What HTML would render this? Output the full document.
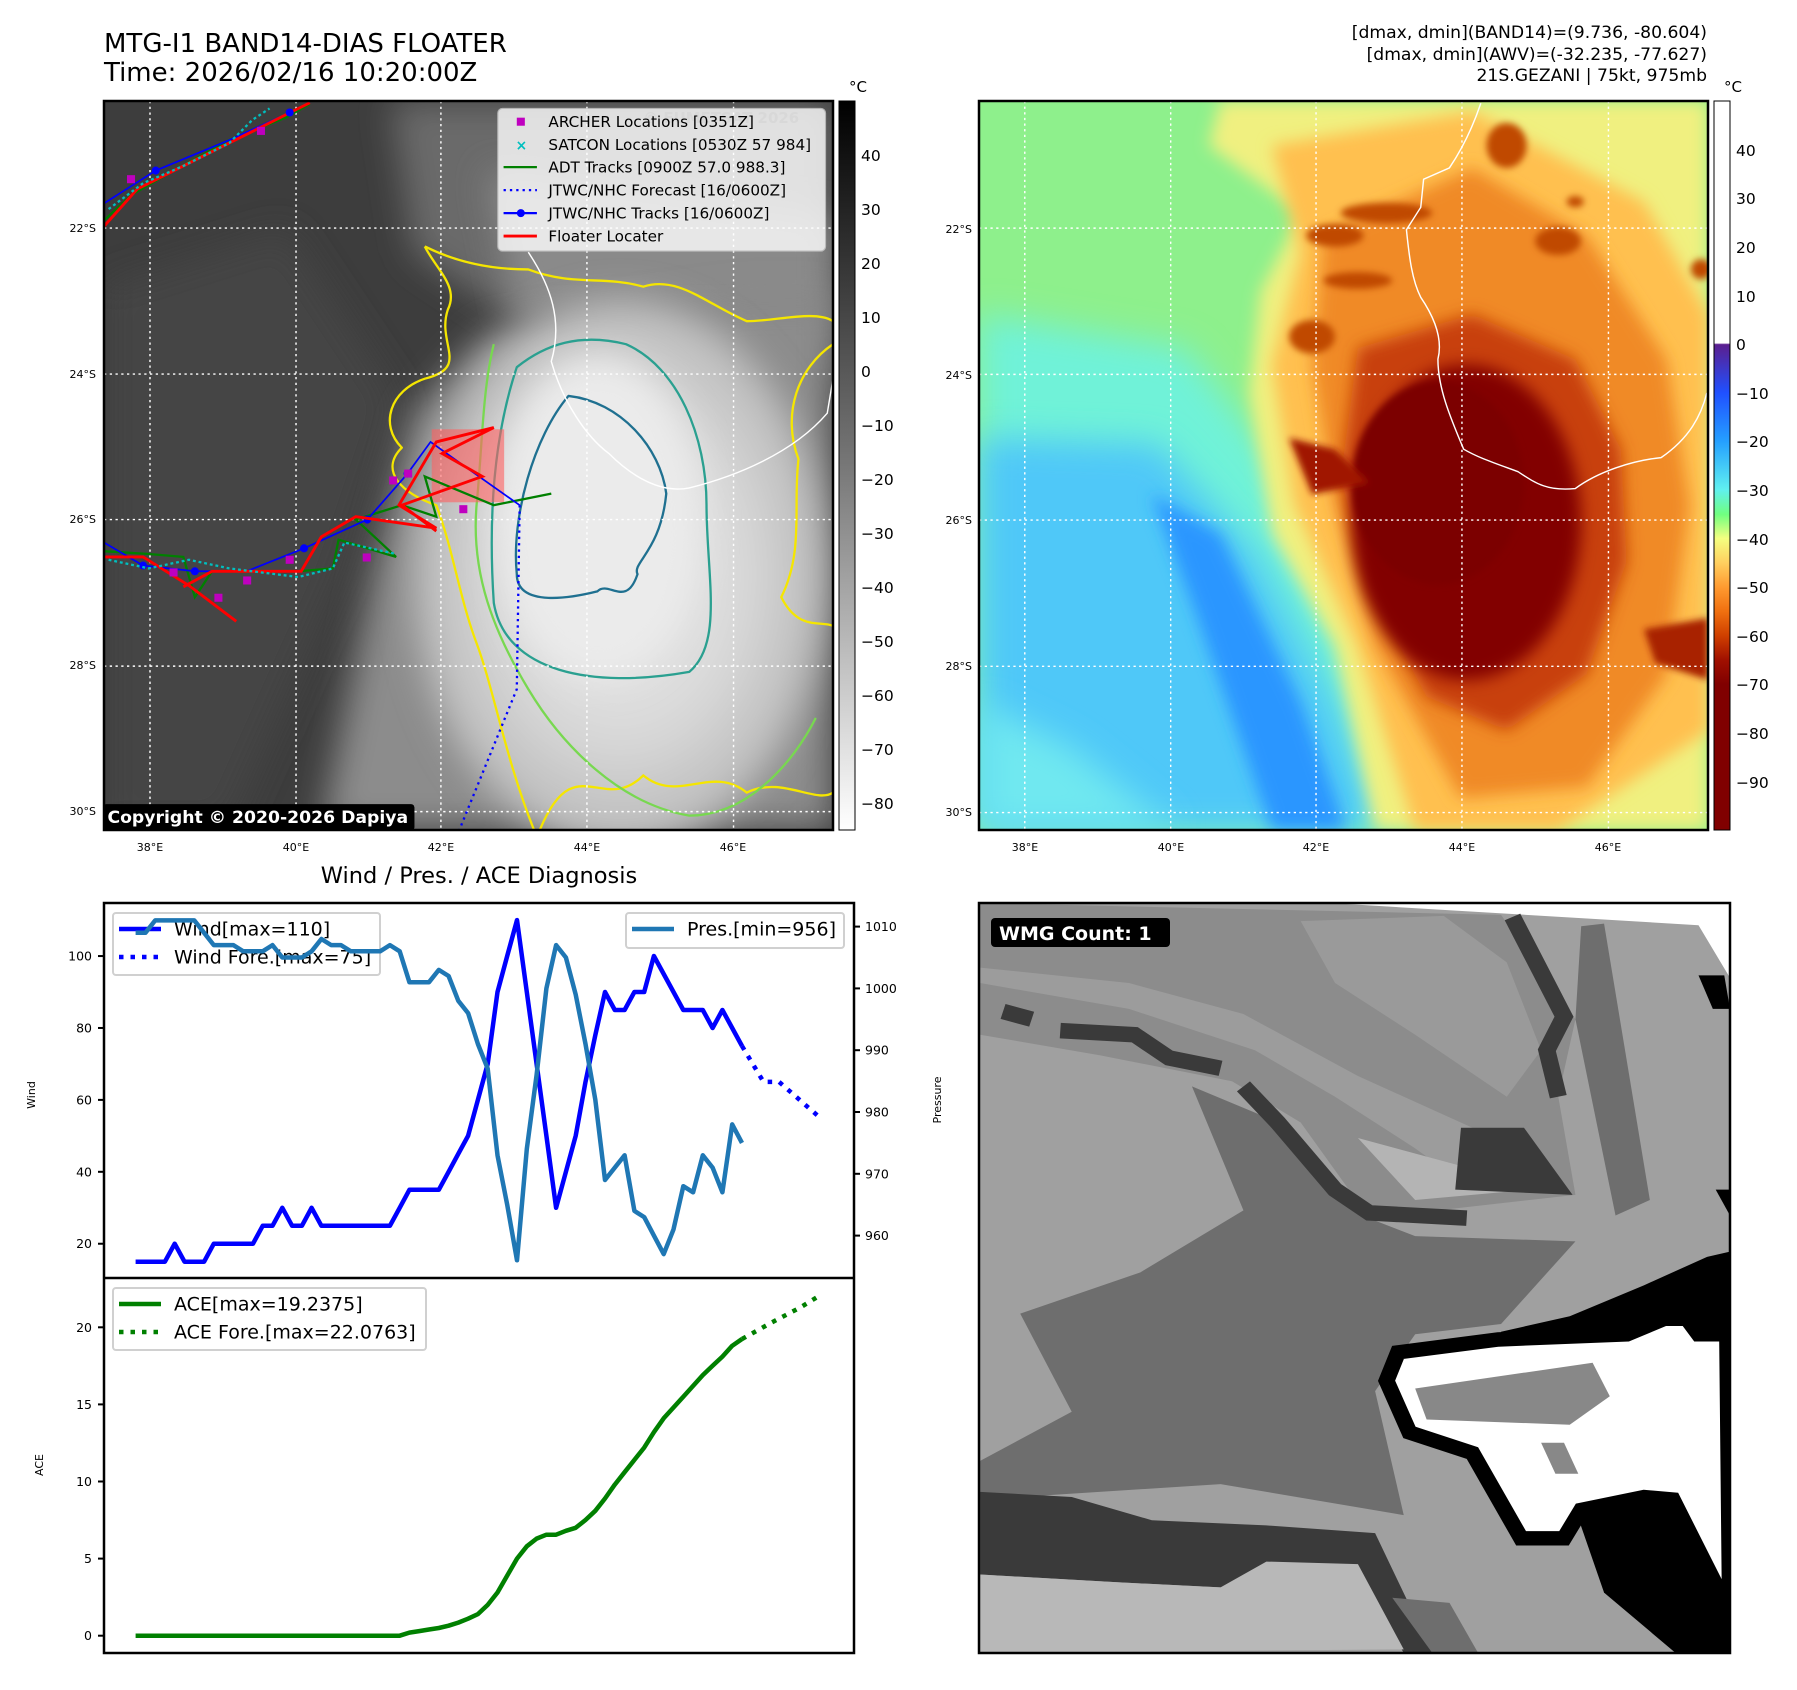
<!DOCTYPE html>
<html><head><meta charset="utf-8">
<style>
html,body{margin:0;padding:0;background:#fff;}
#root{position:relative;width:1797px;height:1690px;overflow:hidden;font-family:"DejaVu Sans","Liberation Sans",sans-serif;}
svg text{font-family:"DejaVu Sans","Liberation Sans",sans-serif;}
</style></head>
<body>
<div id="root">
<svg id="fig" width="1797" height="1690" viewBox="0 0 1797 1690" xmlns="http://www.w3.org/2000/svg">
<defs>
  <filter id="b6" x="-20%" y="-20%" width="140%" height="140%"><feGaussianBlur stdDeviation="6"/></filter>
  <filter id="b14" x="-30%" y="-30%" width="160%" height="160%"><feGaussianBlur stdDeviation="14"/></filter>
  <filter id="b30" x="-30%" y="-30%" width="160%" height="160%"><feGaussianBlur stdDeviation="30"/></filter>
  <linearGradient id="greyBar" x1="0" y1="0" x2="0" y2="1">
    <stop offset="0" stop-color="#000"/><stop offset="0.5" stop-color="#777"/><stop offset="1" stop-color="#fff"/>
  </linearGradient>
  <linearGradient id="colBar" x1="0" y1="0" x2="0" y2="1">
    <stop offset="0" stop-color="#fff"/><stop offset="0.332" stop-color="#fff"/>
    <stop offset="0.334" stop-color="#5b1f8f"/><stop offset="0.4" stop-color="#2050ff"/>
    <stop offset="0.467" stop-color="#25a0ff"/><stop offset="0.533" stop-color="#60f0f0"/>
    <stop offset="0.567" stop-color="#70ff80"/><stop offset="0.6" stop-color="#f4ff80"/>
    <stop offset="0.633" stop-color="#ffd060"/><stop offset="0.667" stop-color="#ff9a30"/>
    <stop offset="0.7" stop-color="#f07010"/><stop offset="0.733" stop-color="#d04000"/>
    <stop offset="0.767" stop-color="#a01000"/><stop offset="0.8" stop-color="#800000"/>
    <stop offset="1" stop-color="#800000"/>
  </linearGradient>
  <radialGradient id="cloudG" cx="0.5" cy="0.5" r="0.5">
    <stop offset="0" stop-color="#eeeeee"/><stop offset="0.6" stop-color="#d8d8d8"/><stop offset="1" stop-color="#b8b8b8"/>
  </radialGradient>
  <clipPath id="clipL"><rect x="182" y="177" width="1268" height="1268"/></clipPath>
  <clipPath id="clipR"><rect x="138" y="181" width="1274" height="1296"/></clipPath>
</defs>

<!-- titles -->
<text x="104" y="52" font-size="26" fill="#000">MTG-I1 BAND14-DIAS FLOATER</text>
<text x="104" y="81" font-size="26" fill="#000">Time: 2026/02/16 10:20:00Z</text>
<g font-size="17.2" text-anchor="end" fill="#000">
  <text x="1707" y="38">[dmax, dmin](BAND14)=(9.736, -80.604)</text>
  <text x="1707" y="60">[dmax, dmin](AWV)=(-32.235, -77.627)</text>
  <text x="1707" y="81">21S.GEZANI | 75kt, 975mb</text>
</g>

<!-- LEFT MAP -->
<g>
<svg x="104" y="101" width="729" height="729" viewBox="182 177 1268 1268" preserveAspectRatio="none">
 <g clip-path="url(#clipL)">
  <rect x="182" y="177" width="1268" height="1268" fill="#3d3d3d"/>
  <path d="M180,500 L500,400 L700,700 L600,1000 L400,1445 L180,1445 Z" fill="#454545" filter="url(#b30)"/>
  <path d="M680,177 L1450,177 L1450,650 L900,560 L720,440 Z" fill="#6a6a6a" filter="url(#b30)"/>
  <path d="M850,300 L1450,380 L1450,560 L900,560 Z" fill="#8a8a8a" filter="url(#b30)"/>
  <path d="M560,1445 L650,1000 L720,720 L850,580 L1300,520 L1450,520 L1450,1445 Z" fill="#8c8c8c" filter="url(#b30)"/>
  <ellipse cx="1080" cy="1000" rx="360" ry="480" fill="url(#cloudG)" filter="url(#b30)"/>
  <ellipse cx="1040" cy="900" rx="180" ry="280" fill="#ebebeb" filter="url(#b30)"/>
  <!-- contours -->
  <g fill="none" stroke-width="4" stroke-linejoin="round">
   <path d="M740,430 C760,470 800,500 780,540 C760,600 820,640 740,660 C680,680 660,740 700,780 C660,820 700,860 760,880 C790,960 800,1040 830,1120 C860,1200 880,1320 930,1445" stroke="#f5e600"/>
   <path d="M740,430 C800,460 860,470 920,470 C1000,500 1050,480 1120,500 C1180,480 1230,530 1300,560 C1350,560 1420,540 1450,560" stroke="#f5e600"/>
   <path d="M1450,600 C1390,640 1360,720 1390,800 C1380,880 1400,960 1360,1040 C1390,1100 1430,1080 1450,1090" stroke="#f5e600"/>
   <path d="M940,1445 C1000,1300 1050,1420 1120,1350 C1180,1400 1240,1330 1300,1380 C1360,1350 1420,1400 1450,1380" stroke="#f5e600"/>
   <path d="M860,600 C840,680 840,780 830,880 C820,1000 860,1100 920,1200 C980,1300 1080,1400 1200,1420 C1300,1420 1380,1330 1420,1250" stroke="#78d850"/>
   <path d="M900,640 C860,760 850,900 860,1050 C880,1170 1030,1200 1200,1170 C1260,1120 1230,1000 1230,880 C1230,760 1180,640 1090,600 C1010,580 950,600 900,640 Z" stroke="#2aa090"/>
   <path d="M990,690 C1080,700 1150,780 1160,860 C1150,960 1100,980 1110,1000 C1090,1060 1060,1010 1040,1030 C1000,1040 900,1060 900,1000 C890,900 930,760 990,690 Z" stroke="#1f7090"/>
  </g>
  <path d="M920,440 C960,500 980,560 960,630 C980,700 1020,760 1060,790 C1100,830 1150,860 1200,850 C1280,830 1380,790 1440,720 L1450,660" fill="none" stroke="#fff" stroke-width="2.5"/>
  <!-- grid -->
  <g stroke="#fff" stroke-width="2.5" stroke-dasharray="4,6">
   <line x1="262" y1="177" x2="262" y2="1445"/><line x1="516" y1="177" x2="516" y2="1445"/>
   <line x1="768" y1="177" x2="768" y2="1445"/><line x1="1022" y1="177" x2="1022" y2="1445"/>
   <line x1="1277" y1="177" x2="1277" y2="1445"/>
   <line x1="182" y1="398" x2="1450" y2="398"/><line x1="182" y1="652" x2="1450" y2="652"/>
   <line x1="182" y1="905" x2="1450" y2="905"/><line x1="182" y1="1160" x2="1450" y2="1160"/>
   <line x1="182" y1="1413" x2="1450" y2="1413"/>
  </g>
  <!-- tracks -->
  <rect x="752" y="748" width="126" height="127" fill="#ff6060" opacity="0.6"/>
  <path d="M182,385 L230,340 L300,300 L400,245 L500,205 L540,182" fill="none" stroke="#008000" stroke-width="4"/>
  <path d="M182,355 L272,298 L400,245 L505,197 L540,180" fill="none" stroke="#0000ff" stroke-width="3"/>
  <path d="M182,395 L240,330 L400,250 L540,180" fill="none" stroke="#ff0000" stroke-width="5"/>
  <path d="M182,960 L260,965 L320,970 L340,1040 L370,995 L520,995 L580,990 L590,940 L690,970 L620,905 L700,880 L760,900 L740,830 L860,880 L960,860" fill="none" stroke="#008000" stroke-width="4"/>
  <path d="M182,945 L250,985 L340,995 L430,995 L530,955 L640,905 L710,825 L750,770 L820,820 L905,880" fill="none" stroke="#0000ff" stroke-width="3"/>
  <g fill="#0000ff"><circle cx="250" cy="985" r="7"/><circle cx="340" cy="995" r="7"/><circle cx="530" cy="955" r="7"/><circle cx="640" cy="905" r="7"/><circle cx="710" cy="825" r="7"/><circle cx="272" cy="298" r="7"/><circle cx="505" cy="197" r="7"/></g>
  <path d="M182,970 L250,970 L330,1020 L412,1082 M320,1022 L370,995 L525,995 L560,935 L620,900 L760,920 L695,880 L760,770 L860,745 L770,790 L840,830 L700,880 L760,925" fill="none" stroke="#ff0000" stroke-width="5"/>
  <path d="M905,880 L900,1200 L800,1445" fill="none" stroke="#0000ff" stroke-width="4" stroke-dasharray="4,7"/>
  <g fill="#bf00bf"><rect x="222" y="306" width="14" height="14"/><rect x="448" y="222" width="14" height="14"/><rect x="296" y="990" width="14" height="14"/><rect x="374" y="1034" width="14" height="14"/><rect x="424" y="1004" width="14" height="14"/><rect x="498" y="968" width="14" height="14"/><rect x="632" y="964" width="14" height="14"/><rect x="678" y="830" width="14" height="14"/><rect x="704" y="818" width="14" height="14"/><rect x="800" y="880" width="14" height="14"/></g>
  <g stroke="#00bfbf" stroke-width="4" fill="none" stroke-dasharray="5,5"><path d="M190,365 L250,320 L320,290 L400,250 L440,210 L470,190"/><path d="M190,975 L260,990 L330,975 L400,990 L520,1005 L580,990 L600,945 L690,965"/></g>
  <!-- legend -->
  <rect x="867" y="190" width="570" height="248" rx="8" fill="#fff" opacity="0.8" stroke="#ccc" stroke-width="2"/>
  <text x="1120" y="215" font-size="26" font-weight="bold" fill="#d8d8d8">© EUMETSAT 2026</text>
  <rect x="900" y="206" width="14" height="14" fill="#bf00bf"/>
  <text x="898" y="262" font-size="24" fill="#00bfbf" font-weight="bold">×</text>
  <line x1="877" y1="292" x2="935" y2="292" stroke="#008000" stroke-width="4"/>
  <line x1="877" y1="332" x2="935" y2="332" stroke="#0000ff" stroke-width="4" stroke-dasharray="4,7"/>
  <line x1="877" y1="372" x2="935" y2="372" stroke="#0000ff" stroke-width="4"/><circle cx="907" cy="372" r="7" fill="#0000ff"/>
  <line x1="877" y1="412" x2="935" y2="412" stroke="#ff0000" stroke-width="5"/>
  <g font-size="26.5" fill="#000">
   <text x="955" y="222">ARCHER Locations [0351Z]</text>
   <text x="955" y="262">SATCON Locations [0530Z 57 984]</text>
   <text x="955" y="301">ADT Tracks [0900Z 57.0 988.3]</text>
   <text x="955" y="341">JTWC/NHC Forecast [16/0600Z]</text>
   <text x="955" y="381">JTWC/NHC Tracks [16/0600Z]</text>
   <text x="955" y="421">Floater Locater</text>
  </g>
  <rect x="180" y="1400" width="542" height="46" rx="6" fill="#000"/>
  <text x="188" y="1433" font-size="30" font-weight="bold" fill="#fff">Copyright © 2020-2026 Dapiya</text>
 </g>
</svg>
<rect x="104" y="101" width="729" height="729" fill="none" stroke="#000" stroke-width="2.5"/>
</g>
<rect x="839" y="101" width="16" height="729" fill="url(#greyBar)" stroke="#000" stroke-width="1"/>
<text x="849" y="92" font-size="15">°C</text>
<g font-size="15.5" fill="#000">
 <text x="861" y="161">40</text><text x="861" y="215">30</text><text x="861" y="269">20</text><text x="861" y="323">10</text><text x="861" y="377">0</text>
 <text x="861" y="431">−10</text><text x="861" y="485">−20</text><text x="861" y="539">−30</text><text x="861" y="593">−40</text><text x="861" y="647">−50</text>
 <text x="861" y="701">−60</text><text x="861" y="755">−70</text><text x="861" y="809">−80</text>
</g>
<g font-size="11" fill="#000">
 <text x="96" y="232" text-anchor="end">22°S</text><text x="96" y="378" text-anchor="end">24°S</text><text x="96" y="523" text-anchor="end">26°S</text><text x="96" y="669" text-anchor="end">28°S</text><text x="96" y="815" text-anchor="end">30°S</text>
 <text x="150" y="851" text-anchor="middle">38°E</text><text x="296" y="851" text-anchor="middle">40°E</text><text x="441" y="851" text-anchor="middle">42°E</text><text x="587" y="851" text-anchor="middle">44°E</text><text x="733" y="851" text-anchor="middle">46°E</text>
</g>

<!-- RIGHT MAP -->
<g>
<svg x="979" y="101" width="729" height="729" viewBox="138 181 1274 1296" preserveAspectRatio="none">
 <g clip-path="url(#clipR)">
  <rect x="138" y="181" width="1274" height="1296" fill="#8ef08c"/>
  <path d="M138,560 L500,620 L640,800 L760,1050 L900,1477 L138,1477 Z" fill="#70f2d8" filter="url(#b30)"/>
  <path d="M138,780 L450,790 L620,980 L760,1250 L840,1477 L138,1477 Z" fill="#50c8f8" filter="url(#b30)"/>
  <path d="M440,880 L560,950 L700,1250 L780,1477 L650,1477 L520,1100 Z" fill="#2a96ff" filter="url(#b14)"/>
  <path d="M138,1250 L300,1330 L480,1477 L138,1477 Z" fill="#70e8f0" filter="url(#b30)"/>
  <path d="M560,181 L1412,181 L1412,1477 L830,1477 L760,1150 L650,950 L610,700 L630,520 L700,380 L540,260 Z" fill="#f0f080" filter="url(#b14)"/>
  <path d="M650,260 L1000,200 L1300,360 L1412,560 L1412,1300 L1150,1477 L900,1477 L800,1150 L690,900 L650,650 L700,450 Z" fill="#ffc050" filter="url(#b14)"/>
  <path d="M740,420 L1000,300 L1200,420 L1340,640 L1380,900 L1340,1200 L1200,1400 L980,1420 L830,1150 L760,900 L720,650 Z" fill="#f08a28" filter="url(#b14)"/>
  <path d="M800,620 L1000,560 L1180,640 L1260,800 L1270,1000 L1200,1200 L1060,1300 L920,1240 L820,1050 L770,850 Z" fill="#c84008" filter="url(#b14)"/>
  <ellipse cx="990" cy="930" rx="200" ry="280" fill="#820000" filter="url(#b14)"/>
  <ellipse cx="940" cy="860" rx="150" ry="180" fill="#7c0000" filter="url(#b6)"/>
  <path d="M680,780 L760,800 L820,860 L720,880 Z" fill="#a01800" filter="url(#b6)"/>
  <path d="M1300,1120 L1412,1100 L1412,1210 L1320,1180 Z" fill="#a82000" filter="url(#b6)"/>
  <g fill="#c04a00" filter="url(#b6)"><ellipse cx="1060" cy="260" rx="35" ry="40"/><ellipse cx="1150" cy="430" rx="40" ry="25"/><ellipse cx="1180" cy="360" rx="15" ry="10"/><ellipse cx="1400" cy="480" rx="18" ry="18"/><ellipse cx="760" cy="420" rx="50" ry="20"/><ellipse cx="850" cy="380" rx="80" ry="18"/><ellipse cx="800" cy="500" rx="60" ry="15"/><ellipse cx="720" cy="600" rx="40" ry="30"/></g>
  <path d="M1015,185 C1000,230 980,270 960,300 L915,320 L910,370 L885,410 C890,460 895,500 910,530 C930,560 950,600 940,640 C940,690 960,740 985,800 C1010,815 1040,825 1080,840 C1110,860 1130,875 1180,870 C1220,840 1280,820 1330,815 C1380,780 1400,740 1410,700" fill="none" stroke="#fff" stroke-width="2.5"/>
  <g stroke="#fff" stroke-width="2.5" stroke-dasharray="4,6">
   <line x1="218" y1="181" x2="218" y2="1477"/><line x1="473" y1="181" x2="473" y2="1477"/>
   <line x1="727" y1="181" x2="727" y2="1477"/><line x1="982" y1="181" x2="982" y2="1477"/>
   <line x1="1238" y1="181" x2="1238" y2="1477"/>
   <line x1="138" y1="407" x2="1412" y2="407"/><line x1="138" y1="667" x2="1412" y2="667"/>
   <line x1="138" y1="926" x2="1412" y2="926"/><line x1="138" y1="1186" x2="1412" y2="1186"/>
   <line x1="138" y1="1446" x2="1412" y2="1446"/>
  </g>
 </g>
</svg>
<rect x="979" y="101" width="729" height="729" fill="none" stroke="#000" stroke-width="2.5"/>
</g>
<rect x="1714" y="101" width="16" height="729" fill="url(#colBar)" stroke="#000" stroke-width="1"/>
<text x="1724" y="92" font-size="15">°C</text>
<g font-size="15.5" fill="#000">
 <text x="1736" y="156">40</text><text x="1736" y="204">30</text><text x="1736" y="253">20</text><text x="1736" y="302">10</text><text x="1736" y="350">0</text>
 <text x="1736" y="399">−10</text><text x="1736" y="447">−20</text><text x="1736" y="496">−30</text><text x="1736" y="545">−40</text><text x="1736" y="593">−50</text>
 <text x="1736" y="642">−60</text><text x="1736" y="690">−70</text><text x="1736" y="739">−80</text><text x="1736" y="788">−90</text>
</g>
<g font-size="11" fill="#000">
 <text x="972" y="233" text-anchor="end">22°S</text><text x="972" y="379" text-anchor="end">24°S</text><text x="972" y="524" text-anchor="end">26°S</text><text x="972" y="670" text-anchor="end">28°S</text><text x="972" y="816" text-anchor="end">30°S</text>
 <text x="1025" y="851" text-anchor="middle">38°E</text><text x="1171" y="851" text-anchor="middle">40°E</text><text x="1316" y="851" text-anchor="middle">42°E</text><text x="1462" y="851" text-anchor="middle">44°E</text><text x="1608" y="851" text-anchor="middle">46°E</text>
</g>

<!-- WMG PANEL -->
<g>
<svg x="979" y="903" width="751" height="750" viewBox="138 45 1312 1452" preserveAspectRatio="none">
  <rect x="138" y="45" width="1312" height="1452" fill="#a0a0a0"/>
  <path d="M750,45 L1450,45 L1450,190 L1395,88 Z" fill="#fff"/>
  <path d="M140,45 L1050,68 L1180,270 L1150,420 L1180,610 L820,655 L700,470 L580,390 L350,340 L140,300 Z" fill="#8c8c8c"/>
  <path d="M140,200 L400,250 L620,330 L760,420 L900,520 L1000,600 L1100,560 L1000,480 L800,380 L600,260 L400,200 L140,170 Z" fill="#9c9c9c"/>
  <path d="M700,80 L950,70 L1060,160 L1120,330 L1060,420 L900,300 L760,200 Z" fill="#9a9a9a"/>
  <path d="M800,500 L1000,560 L1100,600 L900,620 Z" fill="#b4b4b4"/>
  <path d="M1190,90 L1230,85 L1310,620 L1250,650 L1180,270 Z" fill="#6e6e6e"/>
  <path d="M510,400 L600,640 L420,760 L210,840 L300,1030 L140,1125 L140,1200 L560,1170 L880,1230 L830,990 L900,880 L1050,860 L1180,700 L900,690 L830,660 L640,460 Z" fill="#6e6e6e"/>
  <g fill="none" stroke="#3a3a3a" stroke-width="30">
   <path d="M1070,72 L1160,265 L1130,330 L1150,420"/>
   <path d="M180,255 L230,270 M280,292 L410,300 L470,345 L560,365"/>
   <path d="M600,400 L660,470 L760,600 L820,645 L990,655"/>
  </g>
  <path d="M980,480 L1090,480 L1175,610 L970,600 Z" fill="#3a3a3a"/>
  <path d="M1050,875 L1170,845 L1300,785 L1410,730 L1450,720 L1450,890 L1390,880 L1270,880 L1050,890 Z" fill="#000"/>
  <path d="M870,915 L1045,890 L1270,880 L1335,850 L1375,850 L1395,880 L1445,880 L1450,1420 L1350,1200 L1300,1195 L1190,1220 L1160,1275 L1085,1275 L1000,1110 L890,1070 L850,970 Z" fill="#fff" stroke="#000" stroke-width="28"/>
  <path d="M1300,1195 L1340,1195 L1450,1420 L1450,1497 L1355,1497 L1230,1380 L1180,1220 Z" fill="#000"/>
  <path d="M900,985 L1210,935 L1240,1000 L1170,1055 L920,1045 Z" fill="#888"/>
  <path d="M1120,1090 L1160,1090 L1185,1150 L1145,1150 Z" fill="#888"/>
  <path d="M140,1185 L300,1195 L440,1240 L640,1250 L830,1265 L930,1497 L880,1497 L820,1380 L560,1370 L380,1360 L140,1345 Z" fill="#3a3a3a"/>
  <path d="M140,1345 L380,1360 L560,1370 L640,1320 L800,1325 L880,1490 L140,1497 Z" fill="#b8b8b8"/>
  <path d="M860,1390 L960,1400 L1010,1497 L930,1497 Z" fill="#6e6e6e"/>
  <path d="M1395,185 L1440,185 L1450,250 L1420,250 Z" fill="#000"/>
  <path d="M1425,600 L1450,600 L1450,650 Z" fill="#000"/>
</svg>
<rect x="979" y="903" width="751" height="750" fill="none" stroke="#000" stroke-width="2.5"/>
<rect x="991" y="918" width="179" height="29" rx="4" fill="#000"/>
<text x="999" y="940" font-size="19" font-weight="bold" fill="#fff">WMG Count: 1</text>
</g>

<!-- CHART -->
<text x="479" y="883" font-size="22.5" text-anchor="middle">Wind / Pres. / ACE Diagnosis</text>
<g id="chart"></g>
</svg>
</div>
<script>
// ---- data ----
const windValues = [15,15,15,15,20,15,15,15,20,20,20,20,20,25,25,30,25,25,30,25,25,25,25,25,25,25,25,30,35,35,35,35,40,45,50,60,70,90,100,110,90,70,50,30,40,50,65,78,90,85,85,90,90,100,95,90,85,85,85,80,85,80,75];
const presValues = [1009,1009,1011,1011,1011,1011,1011,1009,1007,1007,1007,1006,1006,1006,1007,1005,1005,1005,1006,1008,1007,1007,1006,1006,1006,1006,1007,1006,1001,1001,1001,1003,1002,998,996,991,987,973,965,956,974,986,1000,1007,1005,999,991,982,969,971,973,964,963,960,957,961,968,967,973,971,967,978,975];
const aceValues = [0,0,0,0,0,0,0,0,0,0,0,0,0,0,0,0,0,0,0,0,0,0,0,0,0,0,0,0,0.2,0.3,0.4,0.5,0.65,0.85,1.1,1.4,2.0,2.8,3.9,5.0,5.8,6.3,6.55,6.55,6.8,7.0,7.5,8.1,8.9,9.8,10.6,11.4,12.2,13.2,14.1,14.8,15.5,16.2,16.9,17.5,18.1,18.8,19.24];
const windForeX = [62,64.2,65.8,70];
const windForeValues = [75,65,65,55];
const aceForeX = [62,65,68,70];
const aceForeValues = [19.24,20.3,21.3,22.08];
const windTicks = [20,40,60,80,100];
const presTicks = [960,970,980,990,1000,1010];
const aceTicks = [0,5,10,15,20];

// ---- axes ----
const X0=104,X1=854,TOP=903,MID=1278,BOT=1653;
function xS(i){return 135.6+i*9.78;}
function yW(w){return 956.05+(100-w)*3.596;}
function yP(p){return 926.6+(1010-p)*6.18;}
function yA(a){return 1635.7-a*15.42;}

const NS='http://www.w3.org/2000/svg';
const chart=document.getElementById('chart');
function mk(tag,attrs,parent){const e=document.createElementNS(NS,tag);for(const k in attrs)e.setAttribute(k,attrs[k]);(parent||chart).appendChild(e);return e;}
function pts(xs,ys,fx,fy){return xs.map((x,i)=>fx(x).toFixed(1)+','+fy(ys[i]).toFixed(1)).join(' ');}
const idx=windValues.map((_,i)=>i);

let f1=mk('rect',{x:X0,y:TOP,width:X1-X0,height:MID-TOP,fill:'#fff'});


let f2=mk('rect',{x:X0,y:MID,width:X1-X0,height:BOT-MID,fill:'#fff'});



let wl=mk('polyline',{points:pts(idx,windValues,xS,yW),fill:'none',stroke:'#0000ff','stroke-width':4.5,'stroke-linejoin':'round'});


let wf=mk('polyline',{points:pts(windForeX,windForeValues,xS,yW),fill:'none',stroke:'#0000ff','stroke-width':4.5,'stroke-dasharray':'4.5,7'});


let al=mk('polyline',{points:pts(idx,aceValues,xS,yA),fill:'none',stroke:'#008000','stroke-width':4.5,'stroke-linejoin':'round'});


let af=mk('polyline',{points:pts(aceForeX,aceForeValues,xS,yA),fill:'none',stroke:'#008000','stroke-width':4.5,'stroke-dasharray':'4.5,7'});



mk('rect',{x:X0,y:TOP,width:X1-X0,height:BOT-TOP,fill:'none',stroke:'#000','stroke-width':2.5});
mk('line',{x1:X0,y1:MID,x2:X1,y2:MID,stroke:'#000','stroke-width':2.5});

function tick(x1,x2,y,label,anchor,tx,name){
  mk('line',{x1:x1,y1:y,x2:x2,y2:y,stroke:'#000','stroke-width':2});
  const t=mk('text',{x:tx,y:y+4.5,'font-size':12.5,'text-anchor':anchor});
  t.textContent=label;
  
  
}
windTicks.forEach(v=>tick(X0-6,X0,yW(v),String(v),'end',X0-12,'wind-tick-label'));
presTicks.forEach(v=>tick(X1,X1+6,yP(v),String(v),'start',X1+11,'pressure-tick-label'));
aceTicks.forEach(v=>tick(X0-6,X0,yA(v),String(v),'end',X0-12,'ace-tick-label'));

let t1=mk('text',{x:0,y:0,'font-size':11,'text-anchor':'middle',transform:'translate(35,1095) rotate(-90)'});t1.textContent='Wind';


let t2=mk('text',{x:0,y:0,'font-size':11,'text-anchor':'middle',transform:'translate(941,1100) rotate(-90)'});t2.textContent='Pressure';


let t3=mk('text',{x:0,y:0,'font-size':11,'text-anchor':'middle',transform:'translate(43,1465) rotate(-90)'});t3.textContent='ACE';



function legend(x,y,w,h,rows,name){
  const g=mk('g',{});
  
  
  mk('rect',{x:x,y:y,width:w,height:h,rx:3,fill:'#fff','fill-opacity':0.8,stroke:'#d0d0d0','stroke-width':2},g);
  rows.forEach((r,k)=>{
    const cy=y+16+k*28;
    const ln=mk('line',{x1:x+6,y1:cy,x2:x+48,y2:cy,stroke:r.c,'stroke-width':4.5},g);
    if(r.dot) ln.setAttribute('stroke-dasharray','4.5,7');
    const t=mk('text',{x:x+61,y:cy+6.5,'font-size':19},g);
    t.textContent=r.t;
  });
}
legend(113,913,267,62,[{c:'#0000ff',t:'Wind[max=110]'},{c:'#0000ff',t:'Wind Fore.[max=75]',dot:1}],'wind-legend');
legend(626,913,218,35,[{c:'#1f77b4',t:'Pres.[min=956]'}],'pressure-legend');
legend(113,1288,313,62,[{c:'#008000',t:'ACE[max=19.2375]'},{c:'#008000',t:'ACE Fore.[max=22.0763]',dot:1}],'ace-legend');

let pl=mk('polyline',{points:pts(idx,presValues,xS,yP),fill:'none',stroke:'#1f77b4','stroke-width':4.5,'stroke-linejoin':'round'});


</script>
</body></html>
